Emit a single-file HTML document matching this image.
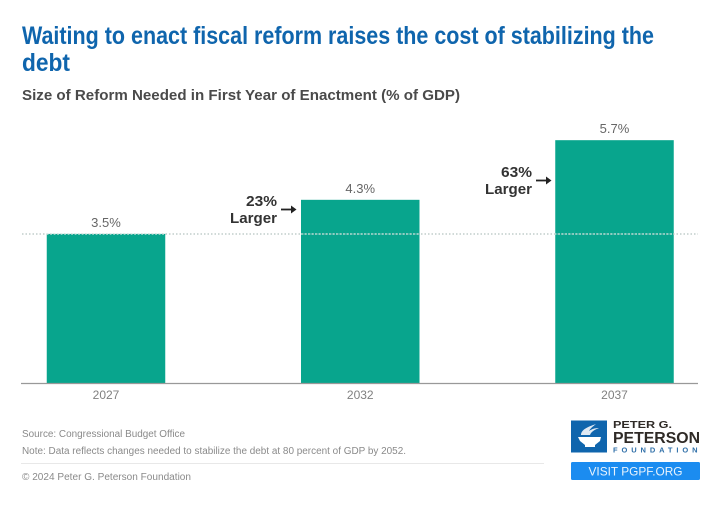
<!DOCTYPE html>
<html>
<head>
<meta charset="utf-8">
<style>
html,body{margin:0;padding:0;background:#fff;}
#wrap{position:relative;width:720px;height:513px;overflow:hidden;background:#fff;}
svg{display:block;filter:blur(0.35px);}
text{font-family:"Liberation Sans",sans-serif;}
</style>
</head>
<body>
<div id="wrap">
<svg id="chart" width="720" height="513" viewBox="0 0 720 513">
  <text x="22" y="44" font-size="25" font-weight="700" fill="#0f65ad" textLength="632" lengthAdjust="spacingAndGlyphs">Waiting to enact fiscal reform raises the cost of stabilizing the</text>
  <text x="22" y="71" font-size="25" font-weight="700" fill="#0f65ad" textLength="48" lengthAdjust="spacingAndGlyphs">debt</text>
  <text x="22" y="100" font-size="14.5" font-weight="700" fill="#4a4a4a" textLength="438" lengthAdjust="spacingAndGlyphs">Size of Reform Needed in First Year of Enactment (% of GDP)</text>

  <g id="bars"></g>

  <line x1="22" y1="234" x2="698" y2="234" stroke="#b5c4c0" stroke-width="1.2" stroke-dasharray="1.5 2"></line>
  <line x1="47" y1="234" x2="165" y2="234" stroke="#cfe9e3" stroke-width="1.2" stroke-dasharray="1.5 2"></line>
  <line x1="301" y1="234" x2="420" y2="234" stroke="#cfe9e3" stroke-width="1.2" stroke-dasharray="1.5 2"></line>
  <line x1="555" y1="234" x2="674" y2="234" stroke="#cfe9e3" stroke-width="1.2" stroke-dasharray="1.5 2"></line>

  <line x1="21" y1="383.5" x2="698" y2="383.5" stroke="#999" stroke-width="1.2"></line>

  <text x="277" y="206" font-size="14.5" font-weight="700" fill="#333" text-anchor="end" textLength="31" lengthAdjust="spacingAndGlyphs">23%</text>
  <text x="277" y="223" font-size="14.5" font-weight="700" fill="#333" text-anchor="end" textLength="47" lengthAdjust="spacingAndGlyphs">Larger</text>
  <g>
    <line x1="281" y1="209.5" x2="294" y2="209.5" stroke="#222" stroke-width="1.8"></line>
    <path d="M291 205.5 L296.5 209.5 L291 213.5 Z" fill="#222"></path>
  </g>
  <text x="532" y="177" font-size="14.5" font-weight="700" fill="#333" text-anchor="end" textLength="31" lengthAdjust="spacingAndGlyphs">63%</text>
  <text x="532" y="194" font-size="14.5" font-weight="700" fill="#333" text-anchor="end" textLength="47" lengthAdjust="spacingAndGlyphs">Larger</text>
  <g>
    <line x1="536" y1="180.5" x2="549" y2="180.5" stroke="#222" stroke-width="1.8"></line>
    <path d="M546 176.5 L551.5 180.5 L546 184.5 Z" fill="#222"></path>
  </g>

  <text x="22" y="437" font-size="10" fill="#8a8a8a" textLength="163" lengthAdjust="spacingAndGlyphs">Source: Congressional Budget Office</text>
  <text x="22" y="454" font-size="10" fill="#8a8a8a" textLength="384" lengthAdjust="spacingAndGlyphs">Note: Data reflects changes needed to stabilize the debt at 80 percent of GDP by 2052.</text>
  <line x1="21" y1="463.5" x2="544" y2="463.5" stroke="#e8e8e8" stroke-width="1"></line>
  <text x="22" y="480" font-size="10" fill="#8a8a8a" textLength="169" lengthAdjust="spacingAndGlyphs">© 2024 Peter G. Peterson Foundation</text>

  <g>
    <rect x="571" y="420.5" width="36" height="32" fill="#0f65ad"></rect>
    <path d="M578 437 H601 L600 441 L595 445 V447 H585 V445 L580 441 Z" fill="#fff"></path>
    <path d="M581 435 C581 430 587 427 596 424 C592 427 590 429 589 431 C592 429 595 428 599 428 C594 430 591 432 590 435 Z" fill="#dfe9f3"></path>
    <text x="613" y="428" font-size="10.5" font-weight="700" fill="#2f2a26" textLength="59" lengthAdjust="spacingAndGlyphs">PETER G.</text>
    <text x="613" y="443" font-size="15.5" font-weight="700" fill="#2f2a26" textLength="87" lengthAdjust="spacingAndGlyphs">PETERSON</text>
    <text x="613" y="452.5" font-size="7.5" font-weight="700" fill="#2f6fa8" letter-spacing="3.9">FOUNDATION</text>
  </g>
  <rect x="571" y="462" width="129" height="18" rx="1.5" fill="#1b8cf0"></rect>
  <text x="635.5" y="475.5" font-size="12" font-weight="400" fill="#e8f3fd" text-anchor="middle" textLength="94" lengthAdjust="spacingAndGlyphs">VISIT PGPF.ORG</text>
</svg>
</div>
<script>
const categories = ['2027', '2032', '2037'];
const seriesValues = [3.5, 4.3, 5.7];
const valueLabels = ['3.5%', '4.3%', '5.7%'];

const NS = 'http://www.w3.org/2000/svg';
const layer = document.getElementById('bars');
const baseY = 383;
const pxPerUnit = 42.6;
const firstCenter = 106;
const step = 254.25;
const barW = 118.5;
function yScale(v) { return baseY - v * pxPerUnit; }
function xScale(i) { return firstCenter + i * step; }

categories.forEach(function (cat, i) {
  const v = seriesValues[i];
  const rect = document.createElementNS(NS, 'rect');
  rect.setAttribute('x', xScale(i) - barW / 2);
  rect.setAttribute('y', yScale(v));
  rect.setAttribute('width', barW);
  rect.setAttribute('height', baseY - yScale(v));
  rect.setAttribute('fill', '#08a58d');
  
  
  layer.appendChild(rect);

  const val = document.createElementNS(NS, 'text');
  val.setAttribute('x', xScale(i));
  val.setAttribute('y', yScale(v) - 7);
  val.setAttribute('font-size', '13');
  val.setAttribute('fill', '#666');
  val.setAttribute('text-anchor', 'middle');
  val.textContent = valueLabels[i];
  
  
  layer.appendChild(val);

  const tick = document.createElementNS(NS, 'text');
  tick.setAttribute('x', xScale(i));
  tick.setAttribute('y', 399);
  tick.setAttribute('font-size', '12');
  tick.setAttribute('fill', '#808080');
  tick.setAttribute('text-anchor', 'middle');
  tick.textContent = cat;
  
  
  layer.appendChild(tick);
});
</script>
</body>
</html>
